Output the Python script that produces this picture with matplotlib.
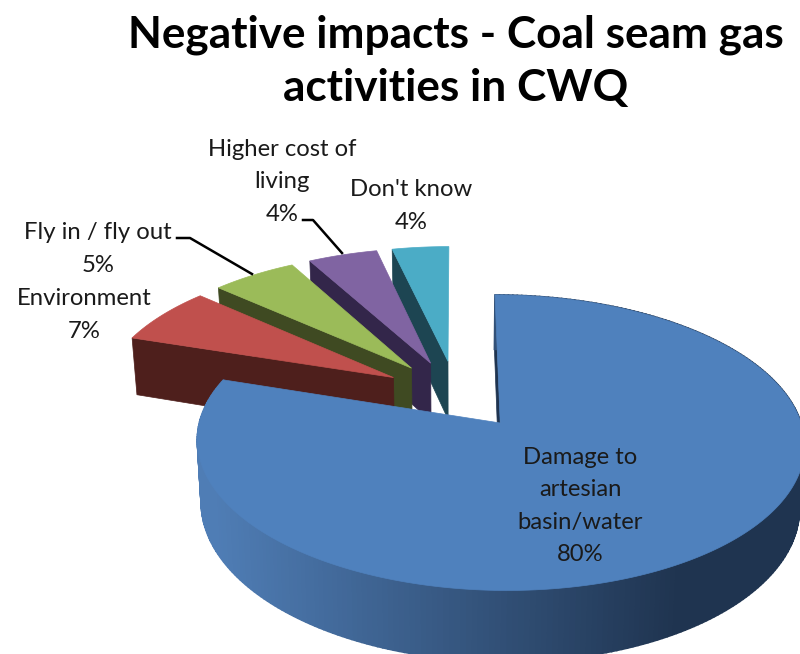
import matplotlib
matplotlib.use("Agg")
import matplotlib.pyplot as plt
from matplotlib.colors import to_rgb
import numpy as np

title = "Negative impacts - Coal seam gas\nactivities in CWQ"
categories = ["Damage to\nartesian\nbasin/water", "Environment", "Fly in / fly out", "Higher cost of\nliving", "Don't know"]
values = [80, 6.6, 5.4, 4.4, 3.6]
top_colors = ["#4F81BD", "#C0504D", "#9BBB59", "#8064A2", "#4BACC6"]
side_colors = ["#1F3450", "#4E1F1C", "#3F4A22", "#33264A", "#1D4552"]

# where the labels sit, in pixels
label_pos = [(580, 506), (84, 315), (98, 249), (282, 182), (411, 206)]

# pie geometry: centre, radii, perspective, explode, thickness
bx, by = 456, 394.4
rx, ry = 293, 137.6
k = 0.13
explode = 0.25
depth = 60

fig = plt.figure(figsize=(8, 6.54), dpi=100)
ax = fig.add_axes([0, 0, 1, 1])
ax.set_xlim(0, 800)
ax.set_ylim(654, 0)
ax.axis("off")
plt.rcParams["font.family"] = ["Lato", "DejaVu Sans"]


def project(X, Y, z=0.0):
    w = 1 + k * Y
    return bx + rx * X / w * (1 - 0.015 * z), by - ry * Y / w + depth * z / w


edges = np.cumsum([0] + values) / sum(values) * 2 * np.pi


def slice_points(i, n=80):
    mid = (edges[i] + edges[i + 1]) / 2
    ox, oy = explode * np.sin(mid), explode * np.cos(mid)
    t = np.linspace(edges[i], edges[i + 1], n)
    return ox, oy, ox + np.sin(t), oy + np.cos(t)


# back slices first, blue last
for i in [4, 3, 2, 1, 0]:
    ox, oy, X, Y = slice_points(i, 300 if i == 0 else 60)
    ax_, ay_ = project(ox, oy)
    axb, ayb = project(ox, oy, 1)

    if i == 0:
        # thin face along the start edge, then the shaded outer wall
        x0, y0 = project(X[0], Y[0])
        x1, y1 = project(X[0], Y[0], 1)
        ax.fill([ax_, axb, x1, x0], [ay_, ayb, y1, y0], color=side_colors[0], lw=0.5)
        xt, yt = project(X, Y)
        xb, yb = project(X, Y, 1)
        light = np.array(to_rgb("#4F7DB5"))
        dark = np.array(to_rgb(side_colors[0]))
        for j in range(len(X) - 1):
            f = np.clip((xt[j] - 215) / (680 - 215), 0, 1)
            c = light + (dark - light) * f
            ax.fill([xt[j], xt[j + 1], xb[j + 1], xb[j]], [yt[j], yt[j + 1], yb[j + 1], yb[j]],
                    color=c, lw=1.2)
    else:
        # dark face under the left edge of the slice
        x0, y0 = project(X[0], Y[0])
        x1, y1 = project(X[0], Y[0], 1)
        ax.fill([ax_, axb, x1, x0], [ay_, ayb, y1, y0], color=side_colors[i], lw=0.5)

    xs, ys = project(X, Y)
    ax.fill(np.r_[ax_, xs], np.r_[ay_, ys], color=top_colors[i], lw=0.5)

# leader lines
ax.plot([177, 190, 252], [238, 238, 274], color="black", lw=1.8)
ax.plot([303, 313, 342], [220, 220, 253], color="black", lw=1.8)

for name, v, pos in zip(categories, values, label_pos):
    ax.text(pos[0], pos[1], f"{name}\n{v:.0f}%", ha="center", va="center", fontsize=17.2,
            color="#1a1a1a", linespacing=1.68)

ax.text(456, 61, title, ha="center", va="center", fontsize=31.8, fontweight="bold",
        color="black", linespacing=1.4)

fig.savefig("out.png", dpi=100)
